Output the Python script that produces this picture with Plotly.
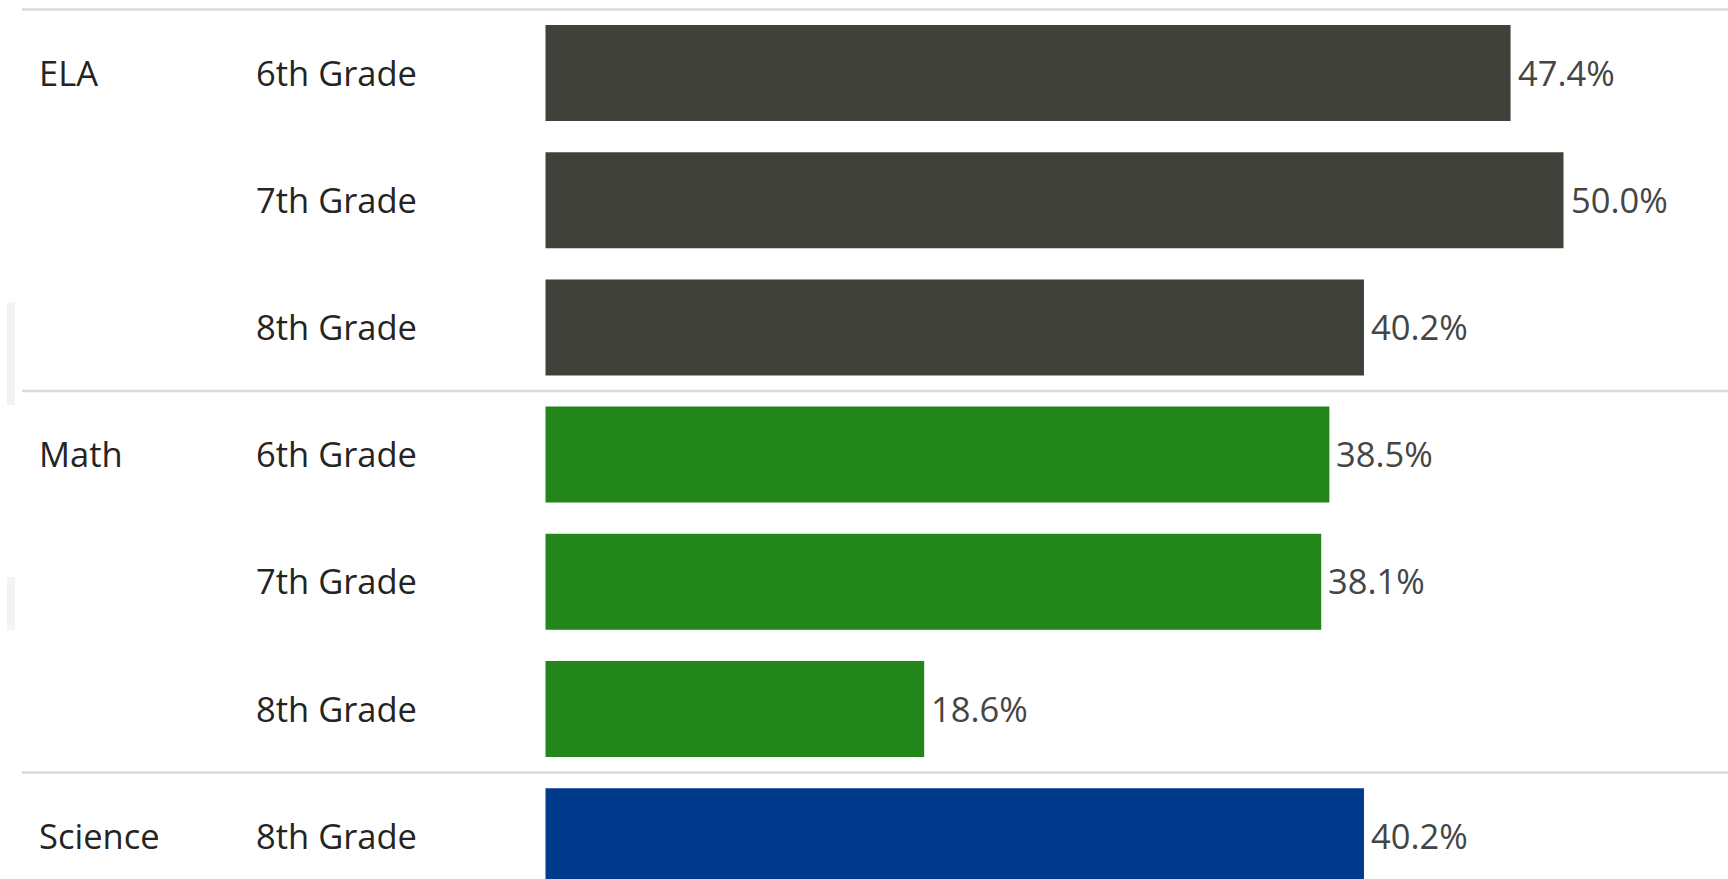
import plotly.graph_objects as go

subjects = ["ELA", "ELA", "ELA", "Math", "Math", "Math", "Science"]
grades = ["6th Grade", "7th Grade", "8th Grade", "6th Grade", "7th Grade", "8th Grade", "8th Grade"]
values = [47.4, 50.0, 40.2, 38.5, 38.1, 18.6, 40.2]
subject_colors = {"ELA": "#40413B", "Math": "#22861A", "Science": "#003A8C"}

keys = [f"{s}|{g}" for s, g in zip(subjects, grades)]
colors = [subject_colors[s] for s in subjects]

W, H = 1728, 879
FONT = "Open Sans, Noto Sans, sans-serif"
FS = 34.5

fig = go.Figure()
fig.add_trace(go.Bar(
    x=values, y=keys, orientation="h",
    marker=dict(color=colors, line=dict(width=0)),
    width=0.755, hoverinfo="x+y",
))

annotations = []
prev = None
for k, s, g, v in zip(keys, subjects, grades, values):
    if s != prev:
        annotations.append(dict(x=37 / W, xref="paper", y=k, yref="y", text=s,
                                showarrow=False, xanchor="left", yanchor="middle", yshift=1,
                                font=dict(family=FONT, size=FS, color="#252423")))
        prev = s
    annotations.append(dict(x=254 / W, xref="paper", y=k, yref="y", text=g,
                            showarrow=False, xanchor="left", yanchor="middle", yshift=1,
                            font=dict(family=FONT, size=FS, color="#252423")))
    annotations.append(dict(x=v, xref="x", y=k, yref="y", text=f"{v:.1f}%",
                            showarrow=False, xanchor="left", yanchor="middle", xshift=5, yshift=1,
                            font=dict(family=FONT, size=FS, color="#454545")))

# separators between subject groups
shapes = []
n = len(keys)
sep_positions = [-0.5] + [i + 0.5 for i in range(n - 1) if subjects[i] != subjects[i + 1]]
for p in sep_positions:
    shapes.append(dict(type="line", xref="paper", yref="y", x0=22 / W, x1=1, y0=p, y1=p,
                       line=dict(color="#DADADA", width=2.5)))
# faint scrollbar strips at left edge
for y0, y1 in [(302, 405), (577, 630)]:
    shapes.append(dict(type="rect", xref="paper", yref="paper", x0=7 / W, x1=15 / W,
                       y0=1 - y1 / H, y1=1 - y0 / H, fillcolor="#F3F3F3", line=dict(width=0),
                       layer="below"))

px_per_unit = 20.36
x0 = -545.5 / px_per_unit
x1 = x0 + W / px_per_unit
pitch = 127.2
ya = -73 / pitch
yb = ya + H / pitch

fig.update_layout(
    width=W, height=H,
    margin=dict(l=0, r=0, t=0, b=0),
    paper_bgcolor="white", plot_bgcolor="white",
    showlegend=False,
    xaxis=dict(range=[x0, x1], visible=False, fixedrange=True),
    yaxis=dict(range=[yb, ya], type="category", categoryorder="array", categoryarray=keys,
               showticklabels=False, showgrid=False, zeroline=False, showline=False,
               ticks="", fixedrange=True),
    annotations=annotations,
    shapes=shapes,
    font=dict(family=FONT),
)

fig.write_html("out.html", config={"displayModeBar": False})
